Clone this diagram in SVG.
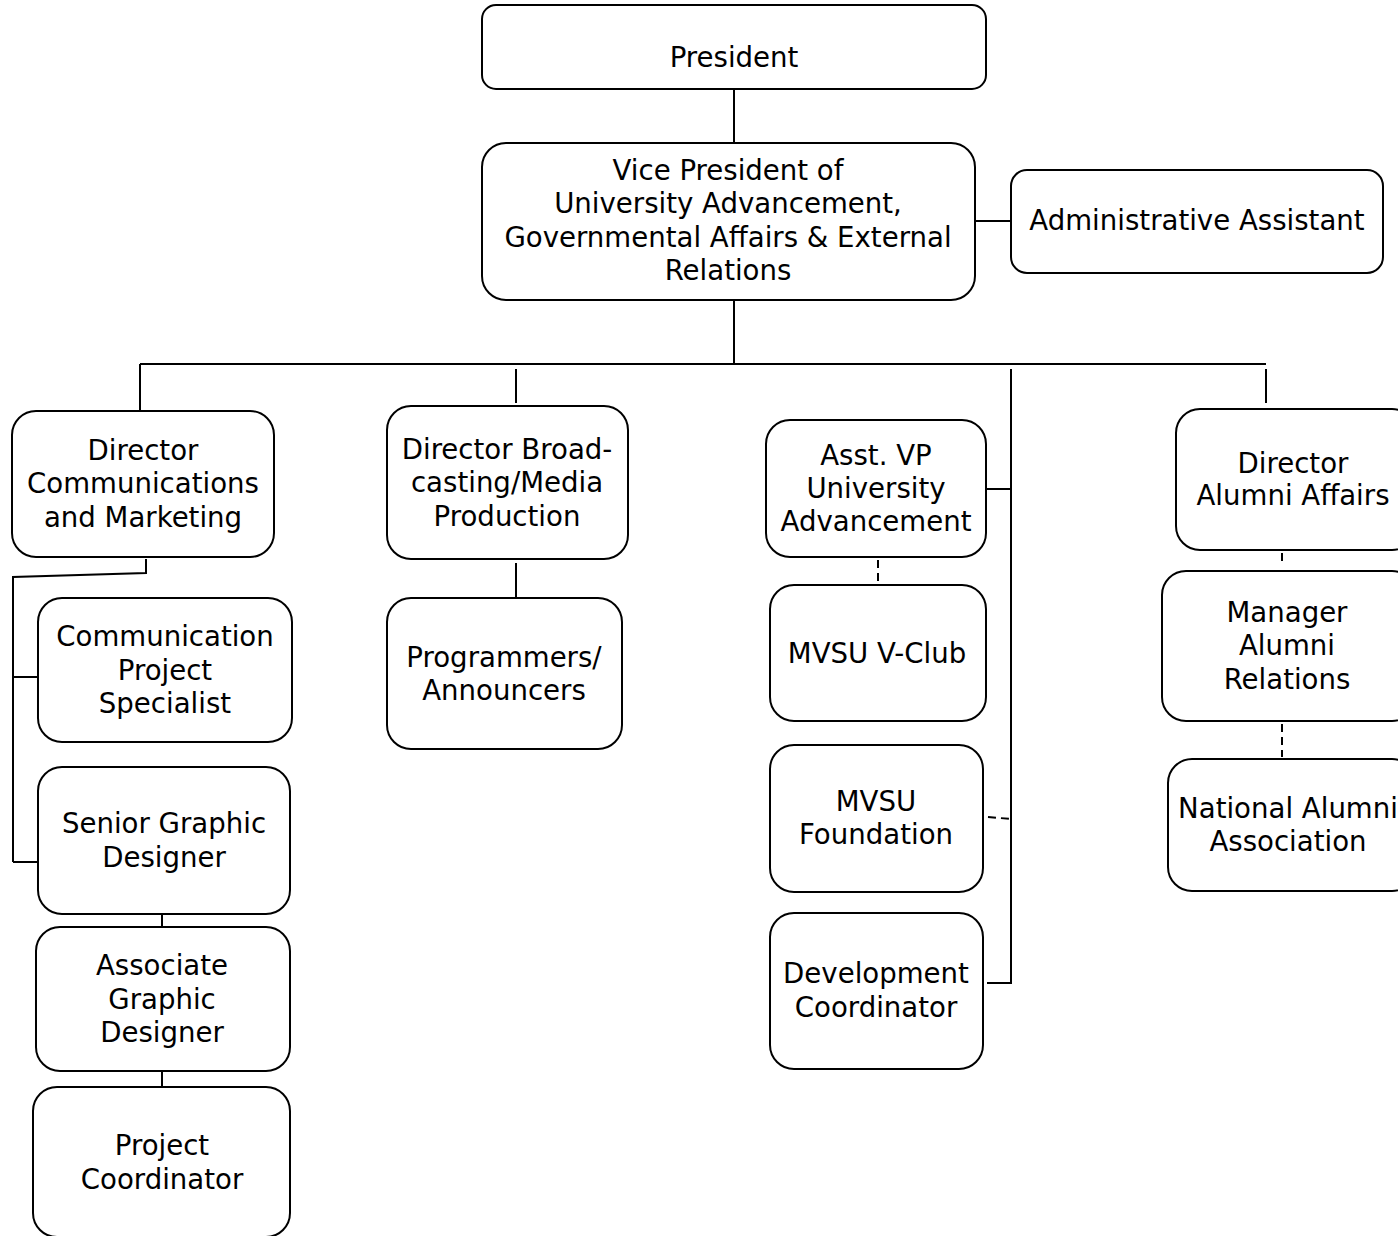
<svg xmlns="http://www.w3.org/2000/svg" width="1398" height="1236" viewBox="0 0 1398 1236">
<style>
.box{fill:#fff;stroke:#000;stroke-width:2}
.t{font-family:"DejaVu Sans","Verdana",sans-serif;font-size:27.6px;fill:#000;text-anchor:middle}
.c{fill:none;stroke:#000;stroke-width:2}
.d{fill:none;stroke:#000;stroke-width:2;stroke-dasharray:8,5}
</style>
<rect width="1398" height="1236" fill="#fff"/>
<g id="connectors">
<path class="c" d="M734 89V143"/>
<path class="c" d="M975 221H1011"/>
<path class="c" d="M734 300V364"/>
<path class="c" d="M140 364H1266"/>
<path class="c" d="M140 364V411"/>
<path class="c" d="M516 369V403"/>
<path class="c" d="M1266 369V403"/>
<path class="c" d="M1011 369V983H987"/>
<path class="c" d="M986 489H1011"/>
<path class="c" d="M146 559V573L13 577V862"/>
<path class="c" d="M13 677H38"/>
<path class="c" d="M13 862H38"/>
<path class="c" d="M162 914V927"/>
<path class="c" d="M162 1071V1087"/>
<path class="c" d="M516 563V598"/>
<path class="d" d="M878 560V582"/>
<path class="d" d="M988 817L1011 819"/>
<path class="d" d="M1282 553V566"/>
<path class="d" d="M1282 724V757"/>
</g>
<g id="president"><rect class="box" x="482" y="5" width="504" height="84" rx="14"/><text class="t" x="734" y="67">President</text></g>
<g id="vp"><rect class="box" x="482" y="143" width="493" height="157" rx="24"/>
<text class="t" x="728" y="180">Vice President of</text>
<text class="t" x="728" y="213">University Advancement,</text>
<text class="t" x="728" y="247">Governmental Affairs &amp; External</text>
<text class="t" x="728" y="280">Relations</text></g>
<g id="admin"><rect class="box" x="1011" y="170" width="372" height="103" rx="16"/><text class="t" x="1197" y="230">Administrative Assistant</text></g>
<g id="dircomm"><rect class="box" x="12" y="411" width="262" height="146" rx="24"/>
<text class="t" x="143" y="460">Director</text>
<text class="t" x="143" y="493">Communications</text>
<text class="t" x="143" y="527">and Marketing</text></g>
<g id="cps"><rect class="box" x="38" y="598" width="254" height="144" rx="24"/>
<text class="t" x="165" y="646">Communication</text>
<text class="t" x="165" y="680">Project</text>
<text class="t" x="165" y="713">Specialist</text></g>
<g id="sgd"><rect class="box" x="38" y="767" width="252" height="147" rx="24"/>
<text class="t" x="164" y="833">Senior Graphic</text>
<text class="t" x="164" y="867">Designer</text></g>
<g id="agd"><rect class="box" x="36" y="927" width="254" height="144" rx="24"/>
<text class="t" x="162" y="975">Associate</text>
<text class="t" x="162" y="1009">Graphic</text>
<text class="t" x="162" y="1042">Designer</text></g>
<g id="pc"><rect class="box" x="33" y="1087" width="257" height="150" rx="24"/>
<text class="t" x="162" y="1155">Project</text>
<text class="t" x="162" y="1189">Coordinator</text></g>
<g id="dirbroad"><rect class="box" x="387" y="406" width="241" height="153" rx="24"/>
<text class="t" x="507" y="459">Director Broad-</text>
<text class="t" x="507" y="492">casting/Media</text>
<text class="t" x="507" y="526">Production</text></g>
<g id="prog"><rect class="box" x="387" y="598" width="235" height="151" rx="24"/>
<text class="t" x="504" y="667">Programmers/</text>
<text class="t" x="504" y="700">Announcers</text></g>
<g id="asstvp"><rect class="box" x="766" y="420" width="220" height="137" rx="24"/>
<text class="t" x="876" y="465">Asst. VP</text>
<text class="t" x="876" y="498">University</text>
<text class="t" x="876" y="531">Advancement</text></g>
<g id="vclub"><rect class="box" x="770" y="585" width="216" height="136" rx="24"/>
<text class="t" x="877" y="663">MVSU V-Club</text></g>
<g id="foundation"><rect class="box" x="770" y="745" width="213" height="147" rx="24"/>
<text class="t" x="876" y="811">MVSU</text>
<text class="t" x="876" y="844">Foundation</text></g>
<g id="devcoord"><rect class="box" x="770" y="913" width="213" height="156" rx="24"/>
<text class="t" x="876" y="983">Development</text>
<text class="t" x="876" y="1017">Coordinator</text></g>
<g id="diralumni"><rect class="box" x="1176" y="409" width="240" height="141" rx="24"/>
<text class="t" x="1293" y="473">Director</text>
<text class="t" x="1293" y="505">Alumni Affairs</text></g>
<g id="mgralumni"><rect class="box" x="1162" y="571" width="254" height="150" rx="24"/>
<text class="t" x="1287" y="622">Manager</text>
<text class="t" x="1287" y="655">Alumni</text>
<text class="t" x="1287" y="689">Relations</text></g>
<g id="naa"><rect class="box" x="1168" y="759" width="248" height="132" rx="24"/>
<text class="t" x="1288" y="818">National Alumni</text>
<text class="t" x="1288" y="851">Association</text></g>
</svg>
